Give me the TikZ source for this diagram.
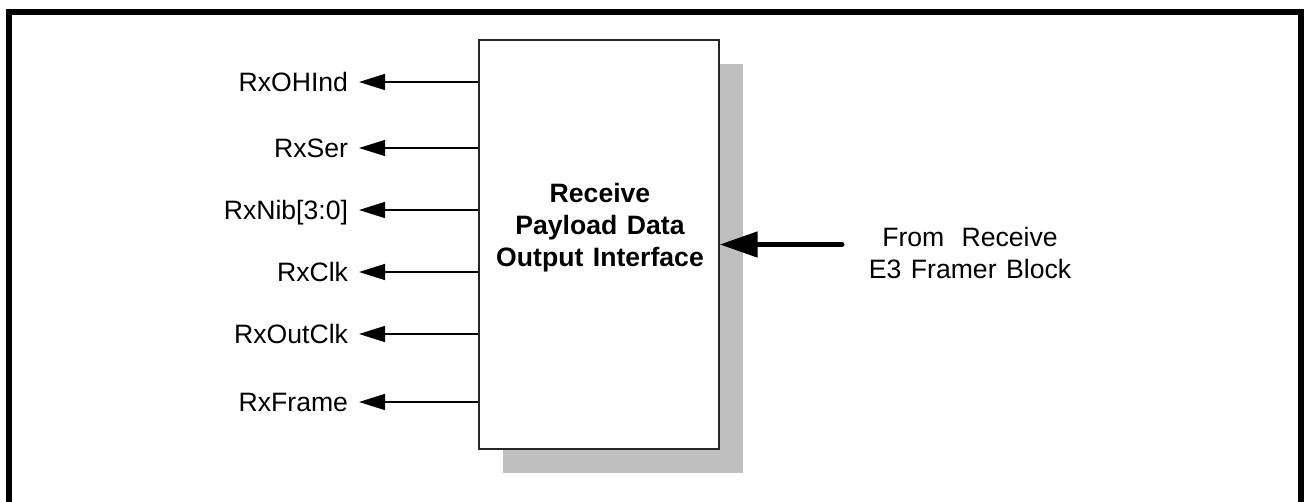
\documentclass[tikz,border=0pt]{standalone}
\usepackage{fontspec}
\setmainfont{Liberation Sans}
\usetikzlibrary{arrows.meta}
\newcommand{\wsp}{\hspace{0.36em}}
\begin{document}
\begin{tikzpicture}[x=0.5pt,y=-0.5pt,
  frame/.style={line width=3pt},
  blockbox/.style={draw=black!85, fill=white, line width=0.7pt, inner sep=0pt,
    minimum width=120pt, minimum height=204.5pt},
  titletext/.style={align=center, inner sep=0pt,
    font=\fontsize{13.3pt}{16pt}\selectfont\bfseries},
  shadowbox/.style={fill=black!25},
  lbl/.style={anchor=east, inner sep=0pt, outer xsep=5.5pt, outer ysep=0pt,
    text height=9.4pt, text depth=0pt, font=\fontsize{13.3pt}{15.5pt}\selectfont},
  sig/.style={line width=0.7pt, -{Triangle[length=13pt,width=8pt]}},
  big/.style={line width=2.5pt, line cap=round, -{Triangle[length=19pt,width=12.5pt]}},
  srctext/.style={align=center, font=\fontsize{13.3pt}{15.8pt}\selectfont}
]
\useasboundingbox (0,0) rectangle (1304,502);
% outer frame (open at bottom)
\draw[frame] (9,502) -- (9,12) -- (1301,12) -- (1301,502);
% shadow and block
\fill[shadowbox] (503,64) rectangle (743,473);
\node[blockbox] (box) at (599,244.5) {};
\node[titletext] (title) at (600,228) {Receive\\Payload\wsp Data\\Output\wsp Interface};
% output labels
\node[lbl] (l1) at (359,82) {RxOHInd};
\node[lbl] (l2) at (359,148) {RxSer};
\node[lbl] (l3) at (359,210) {RxNib[3:0]};
\node[lbl] (l4) at (359,272) {RxClk};
\node[lbl] (l5) at (359,334) {RxOutClk};
\node[lbl] (l6) at (359,402) {RxFrame};
\foreach \n in {l1,l2,l3,l4,l5,l6}{
  \draw[sig] (\n -| box.west) -- (\n);
}
% input
\node[srctext] (src) at (970,253) {From\hspace{0.65em}Receive\\E3\wsp Framer\wsp Block};
\coordinate (bigtail) at (842,244.5);
\draw[big] (bigtail) -- (bigtail -| box.east);
\end{tikzpicture}
\end{document}
